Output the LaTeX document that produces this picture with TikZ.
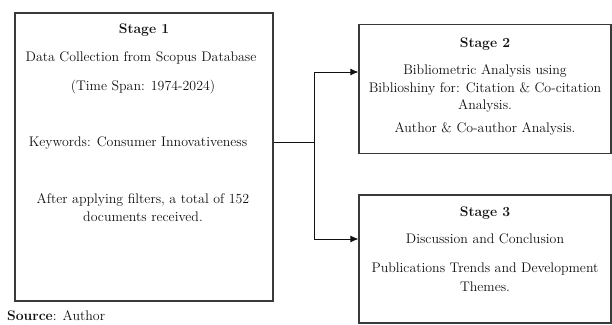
\documentclass[tikz,border=0pt]{standalone}
\usetikzlibrary{arrows.meta,positioning}
\definecolor{Frame}{HTML}{3A3A3A}
\definecolor{Ink}{HTML}{111111}
\tikzset{
  >=Latex,
  stagebox/.style={draw=Frame,line width=1.1pt,inner sep=0pt},
  txt/.style={font=\fontsize{13.9}{16}\selectfont,text=Ink,inner sep=0pt,anchor=base},
  head/.style={txt,font=\fontsize{13.9}{16}\selectfont\bfseries},
  link/.style={line width=.9pt,draw=Ink},
  flow/.style={link,-{Latex[length=8pt,width=7pt]}}
}
\begin{document}
\begin{tikzpicture}[x=1pt,y=-1pt]
        \useasboundingbox (0,0) rectangle (612,324);
        % the three stages
        \node[stagebox,minimum width=258pt,minimum height=288pt] (s1) at (144,157) {};
        \node[stagebox,minimum width=252pt,minimum height=128.5pt] (s2) at (485,89) {};
        \node[stagebox,minimum width=252pt,minimum height=128pt] (s3) at (485,259) {};
        % stage 1 text
        \node[head] (h1) at (144,33.5) {Stage 1};
        \node[txt] (a1) at (141,61.5) {Data Collection from Scopus Database};
        \node[txt] (b1) at (143,90.5) {(Time Span: 1974-2024)};
        \node[txt] (c1) at (138,146.5) {Keywords: Consumer Innovativeness};
        \node[txt] (d1) at (143,203.5) {After applying filters, a total of 152};
        \node[txt] (e1) at (143,221.5) {documents received.};
        % stage 2 text
        \node[head] (h2) at (485,47.5) {Stage 2};
        \node[txt] (a2) at (485,74.5) {Bibliometric Analysis using};
        \node[txt] (b2) at (485,92.5) {Biblioshiny for: Citation \& Co-citation};
        \node[txt] (c2) at (485,109.5) {Analysis.};
        \node[txt] (d2) at (485,132.5) {Author \& Co-author Analysis.};
        % stage 3 text
        \node[head] (h3) at (485,216.5) {Stage 3};
        \node[txt] (a3) at (485,243.5) {Discussion and Conclusion};
        \node[txt] (b3) at (485,272.5) {Publications Trends and Development};
        \node[txt] (c3) at (485,291.5) {Themes.};
        \node[txt,anchor=base west] (src) at (7,320.5) {\textbf{Source}: Author};
        % connectors
        \coordinate (j) at (314,142);
        \coordinate (jup) at (314,72);
        \coordinate (jdn) at (314,239);
        \draw[link] (s1.east |- j) -- (j);
        \draw[flow] (j) -- (jup) -- (s2.west |- jup);
        \draw[flow] (j) -- (jdn) -- (s3.west |- jdn);
\end{tikzpicture}
\end{document}
